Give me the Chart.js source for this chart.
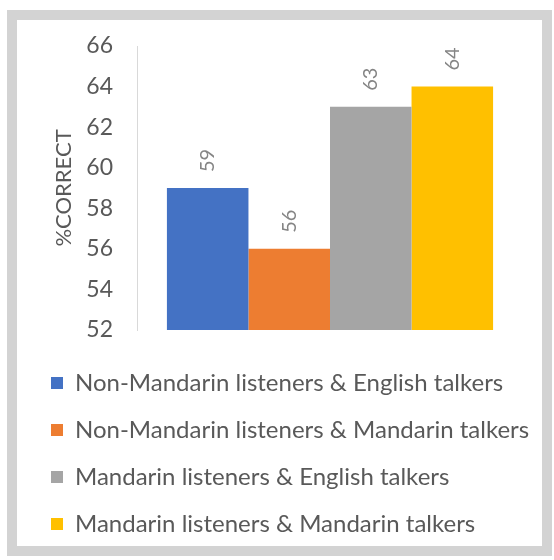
<!DOCTYPE html>
<html>
<head>
<meta charset="utf-8">
<title>% correct by listener and talker group</title>
<script src="https://cdn.jsdelivr.net/npm/chart.js@4.4.0/dist/chart.umd.min.js"></script>
<style>
  body { margin: 0; background: #ffffff; }
  #frame {
    position: absolute; left: 7px; top: 10px;
    width: 545px; height: 546px;
    box-sizing: border-box;
    border: 10px solid #d3d3d3;
    background: #ffffff;
  }
  #wrap { position: relative; width: 525px; height: 526px; }
</style>
</head>
<body>
<div id="frame"><div id="wrap"><canvas id="chart"></canvas></div></div>
<script>
// chart data
const groups = [
    "Non-Mandarin listeners & English talkers",
    "Non-Mandarin listeners & Mandarin talkers",
    "Mandarin listeners & English talkers",
    "Mandarin listeners & Mandarin talkers"
];
const percentCorrect = [59, 56, 63, 64];
const barColors = ['#4472c4', '#ed7d31', '#a5a5a5', '#ffc000'];
const yTicks = { min: 52, max: 66, step: 2 };

const textGray = '#595959';
const fontName = 'Lato, "Noto Sans", sans-serif';

// draws the rotated value label above each bar
const valueLabels = {
    id: 'valueLabels',
    afterDatasetsDraw(chart) {
        const ctx = chart.ctx;
        ctx.save();
        ctx.fillStyle = '#858585';
        ctx.font = '20px ' + fontName;
        ctx.textAlign = 'left';
        ctx.textBaseline = 'middle';
        chart.data.datasets.forEach((ds, i) => {
            const meta = chart.getDatasetMeta(i);
            meta.data.forEach((bar, j) => {
                ctx.save();
                ctx.translate(bar.x, bar.y - 16);
                ctx.rotate(-Math.PI / 2);
                ctx.fillText(String(ds.data[j]), 0, 0);
                ctx.restore();
            });
        });
        ctx.restore();
    }
};

const datasets = groups.map((name, i) => ({
    label: name,
    data: [percentCorrect[i]],
    backgroundColor: barColors[i],
    borderWidth: 0,
    barPercentage: 1,
    categoryPercentage: 0.845
}));

new Chart(document.getElementById('chart'), {
    type: 'bar',
    data: { labels: [''], datasets: datasets },
    options: {
        responsive: true,
        maintainAspectRatio: false,
        animation: false,
        layout: { padding: { left: 11, right: 0, top: 26, bottom: 0 } },
        plugins: {
            tooltip: { enabled: false },
            legend: {
                position: 'bottom',
                align: 'start',
                labels: {
                    color: textGray,
                    font: { family: fontName, size: 24 },
                    boxWidth: 12,
                    boxHeight: 12,
                    padding: 23
                }
            }
        },
        scales: {
            x: {
                grid: { display: false, drawTicks: false },
                border: { display: false },
                ticks: { display: false },
                afterFit: function(scale) { scale.height = 18; }
            },
            y: {
                min: yTicks.min,
                max: yTicks.max,
                grid: { display: false, drawTicks: false },
                border: { display: true, color: '#d9d9d9', width: 1 },
                ticks: {
                    stepSize: yTicks.step,
                    color: textGray,
                    padding: 24,
                    font: { family: fontName, size: 23 }
                },
                title: {
                    display: true,
                    text: '%CORRECT',
                    color: textGray,
                    font: { family: fontName, size: 22 },
                    padding: { top: 23, bottom: 4 }
                },
                afterFit: function(scale) {
                    scale.width = 109;
                    scale.paddingTop = 0;
                }
            },
            // empty right-hand margin axis
            yRight: {
                position: 'right',
                display: true,
                grid: { display: false, drawTicks: false },
                border: { display: false },
                ticks: { display: false },
                afterFit: function(scale) {
                    scale.width = 19;
                    scale.paddingTop = 0;
                }
            }
        }
    },
    plugins: [valueLabels]
});
</script>
</body>
</html>
